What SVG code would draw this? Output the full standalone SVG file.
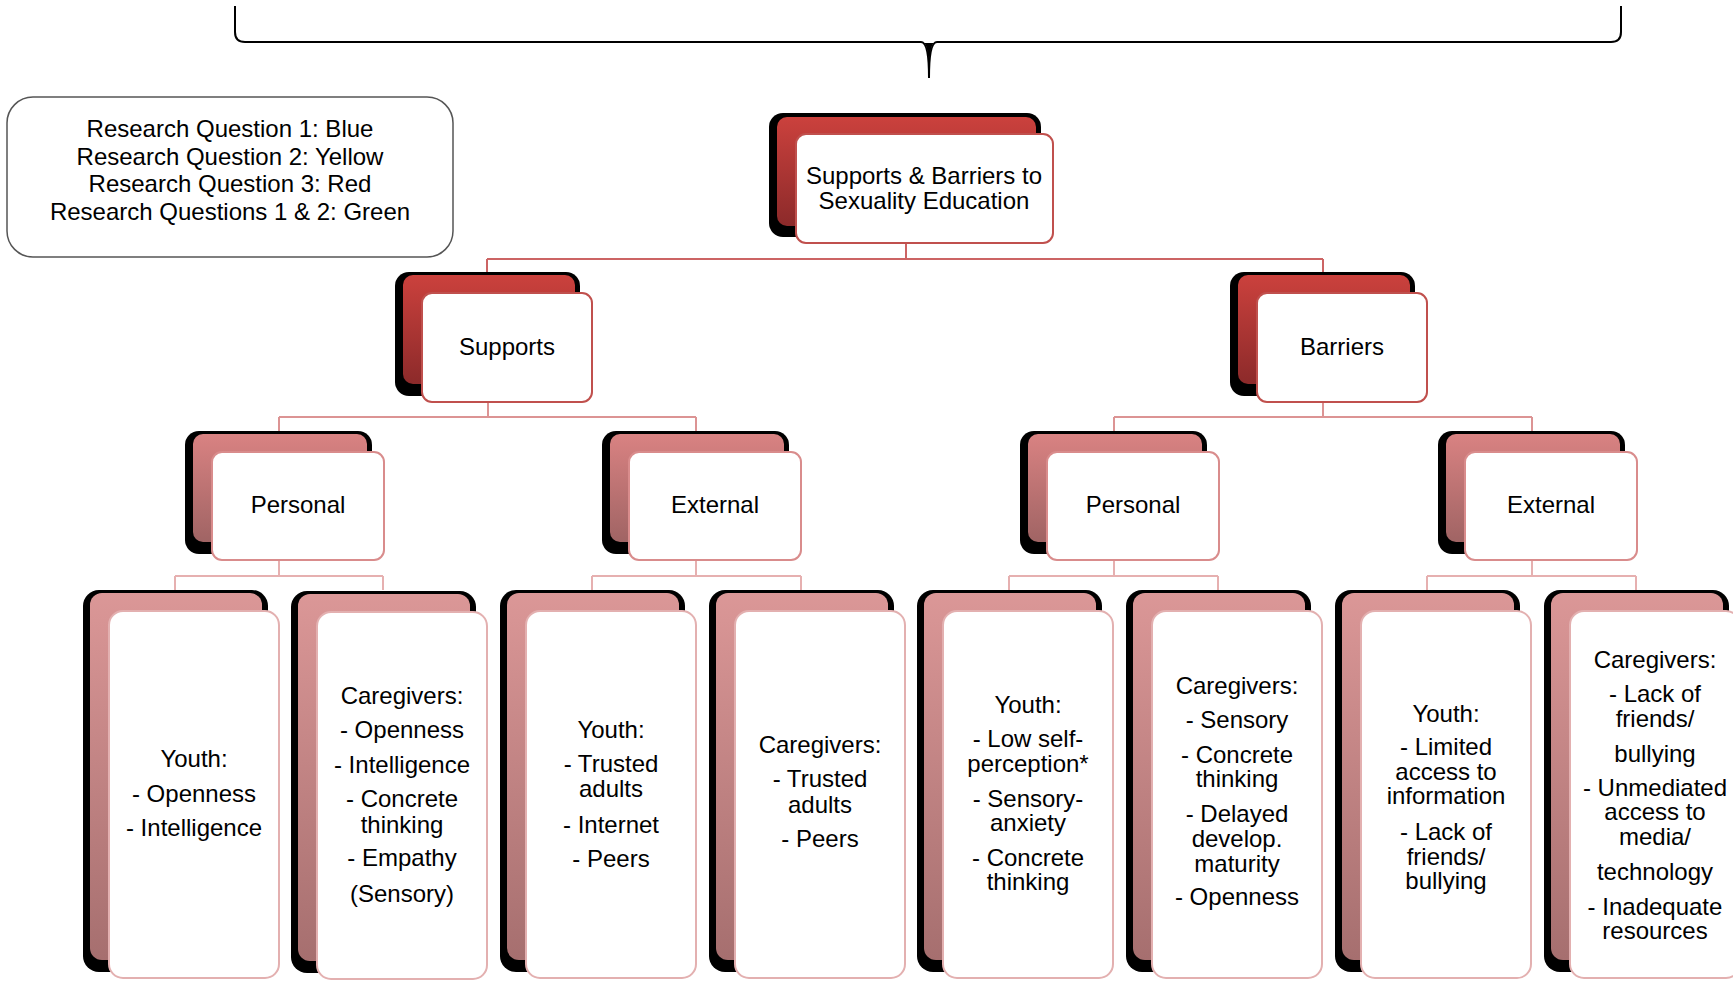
<svg xmlns="http://www.w3.org/2000/svg" width="1733" height="982" viewBox="0 0 1733 982">
<defs>
<linearGradient id="gTop" x1="0" y1="0" x2="0" y2="1">
<stop offset="0" stop-color="#cb413d"/>
<stop offset="1" stop-color="#8c2a2a"/>
</linearGradient>
<linearGradient id="gMid" x1="0" y1="0" x2="0" y2="1">
<stop offset="0" stop-color="#d98282"/>
<stop offset="1" stop-color="#a06464"/>
</linearGradient>
<linearGradient id="gLeaf" x1="0" y1="0" x2="0" y2="1">
<stop offset="0" stop-color="#db9797"/>
<stop offset="1" stop-color="#a66f6f"/>
</linearGradient>
<style>
text{font-family:"Liberation Sans",Arial,sans-serif;font-size:24px;fill:#000;text-anchor:middle}
.sh{fill:#000}
.frontTop{fill:#fff;stroke:#c0504d;stroke-width:2}
.frontMid{fill:#fff;stroke:#d98c8c;stroke-width:2}
.frontLeaf{fill:#fff;stroke:#e3b0b0;stroke-width:2}
.c1{fill:none;stroke:#cc6464;stroke-width:2}
.c2{fill:none;stroke:#dc9494;stroke-width:2}
.c3{fill:none;stroke:#e6b0b0;stroke-width:2}
</style>
</defs>
<rect width="1733" height="982" fill="#fff"/>

<g id="brace">
<path d="M235,6 L235,32 Q235,42 245,42 L921,42 Q929,42 929,78 Q929,42 937,42 L1611,42 Q1621,42 1621,32 L1621,6" fill="none" stroke="#000" stroke-width="2"/>
<path d="M924,43 Q929,46 929,78 Q929,46 934,43 Z" fill="#000"/>
</g>

<g id="legend">
<rect x="7" y="97" width="446" height="160" rx="26" fill="#fff" stroke="#555" stroke-width="1.5"/>
<text x="230" y="137">Research Question 1: Blue</text>
<text x="230" y="165">Research Question 2: Yellow</text>
<text x="230" y="192">Research Question 3: Red</text>
<text x="230" y="220">Research Questions 1 &amp; 2: Green</text>
</g>

<g id="connectors">
<path class="c1" d="M906,243 V259 M487,259 H1323 M487,259 V272 M1323,259 V272"/>
<path class="c2" d="M488,402 V417 M279,417 H696 M279,417 V431 M696,417 V431"/>
<path class="c2" d="M1323,402 V417 M1114,417 H1532 M1114,417 V431 M1532,417 V431"/>
<path class="c3" d="M279,560 V576 M175,576 H383 M175,576 V590 M383,576 V590"/>
<path class="c3" d="M696,560 V576 M592,576 H801 M592,576 V590 M801,576 V590"/>
<path class="c3" d="M1114,560 V576 M1009,576 H1218 M1009,576 V590 M1218,576 V590"/>
<path class="c3" d="M1532,560 V576 M1427,576 H1636 M1427,576 V590 M1636,576 V590"/>
</g>

<g id="node-root">
<rect class="sh" x="769" y="113" width="272" height="124" rx="14"/>
<rect x="777" y="117" width="259" height="109" rx="10" fill="url(#gTop)"/>
<rect class="frontTop" x="796" y="134" width="257" height="109" rx="10"/>
<text x="924" y="184">Supports &amp; Barriers to</text>
<text x="924" y="209">Sexuality Education</text>
</g>

<g id="node-supports">
<rect class="sh" x="395" y="272" width="185" height="124" rx="14"/>
<rect x="403" y="275" width="172" height="109" rx="10" fill="url(#gTop)"/>
<rect class="frontTop" x="422" y="293" width="170" height="109" rx="10"/>
<text x="507" y="355">Supports</text>
</g>

<g id="node-barriers">
<rect class="sh" x="1230" y="272" width="185" height="124" rx="14"/>
<rect x="1238" y="275" width="172" height="109" rx="10" fill="url(#gTop)"/>
<rect class="frontTop" x="1257" y="293" width="170" height="109" rx="10"/>
<text x="1342" y="355">Barriers</text>
</g>

<g id="node-s-personal">
<rect class="sh" x="185" y="431" width="187" height="123" rx="14"/>
<rect x="193" y="434" width="174" height="108" rx="10" fill="url(#gMid)"/>
<rect class="frontMid" x="212" y="452" width="172" height="108" rx="10"/>
<text x="298" y="513">Personal</text>
</g>

<g id="node-s-external">
<rect class="sh" x="602" y="431" width="187" height="123" rx="14"/>
<rect x="610" y="434" width="174" height="108" rx="10" fill="url(#gMid)"/>
<rect class="frontMid" x="629" y="452" width="172" height="108" rx="10"/>
<text x="715" y="513">External</text>
</g>

<g id="node-b-personal">
<rect class="sh" x="1020" y="431" width="187" height="123" rx="14"/>
<rect x="1028" y="434" width="174" height="108" rx="10" fill="url(#gMid)"/>
<rect class="frontMid" x="1047" y="452" width="172" height="108" rx="10"/>
<text x="1133" y="513">Personal</text>
</g>

<g id="node-b-external">
<rect class="sh" x="1438" y="431" width="187" height="123" rx="14"/>
<rect x="1446" y="434" width="174" height="108" rx="10" fill="url(#gMid)"/>
<rect class="frontMid" x="1465" y="452" width="172" height="108" rx="10"/>
<text x="1551" y="513">External</text>
</g>

<g id="leaf-1">
<rect class="sh" x="83" y="590" width="185" height="382" rx="16"/>
<rect x="90" y="593" width="172" height="367" rx="12" fill="url(#gLeaf)"/>
<rect class="frontLeaf" x="109" y="611" width="170" height="367" rx="14"/>
<text x="194" y="767">Youth:</text>
<text x="194" y="802">- Openness</text>
<text x="194" y="836">- Intelligence</text>
</g>

<g id="leaf-2">
<rect class="sh" x="291" y="591" width="185" height="382" rx="16"/>
<rect x="298" y="594" width="172" height="367" rx="12" fill="url(#gLeaf)"/>
<rect class="frontLeaf" x="317" y="612" width="170" height="367" rx="14"/>
<text x="402" y="704">Caregivers:</text>
<text x="402" y="738">- Openness</text>
<text x="402" y="773">- Intelligence</text>
<text x="402" y="807">- Concrete</text>
<text x="402" y="833">thinking</text>
<text x="402" y="866">- Empathy</text>
<text x="402" y="902">(Sensory)</text>
</g>

<g id="leaf-3">
<rect class="sh" x="500" y="590" width="185" height="382" rx="16"/>
<rect x="507" y="593" width="172" height="367" rx="12" fill="url(#gLeaf)"/>
<rect class="frontLeaf" x="526" y="611" width="170" height="367" rx="14"/>
<text x="611" y="738">Youth:</text>
<text x="611" y="772">- Trusted</text>
<text x="611" y="797">adults</text>
<text x="611" y="833">- Internet</text>
<text x="611" y="867">- Peers</text>
</g>

<g id="leaf-4">
<rect class="sh" x="709" y="590" width="185" height="382" rx="16"/>
<rect x="716" y="593" width="172" height="367" rx="12" fill="url(#gLeaf)"/>
<rect class="frontLeaf" x="735" y="611" width="170" height="367" rx="14"/>
<text x="820" y="753">Caregivers:</text>
<text x="820" y="787">- Trusted</text>
<text x="820" y="813">adults</text>
<text x="820" y="847">- Peers</text>
</g>

<g id="leaf-5">
<rect class="sh" x="917" y="590" width="185" height="382" rx="16"/>
<rect x="924" y="593" width="172" height="367" rx="12" fill="url(#gLeaf)"/>
<rect class="frontLeaf" x="943" y="611" width="170" height="367" rx="14"/>
<text x="1028" y="713">Youth:</text>
<text x="1028" y="747">- Low self-</text>
<text x="1028" y="772">perception*</text>
<text x="1028" y="807">- Sensory-</text>
<text x="1028" y="831">anxiety</text>
<text x="1028" y="866">- Concrete</text>
<text x="1028" y="890">thinking</text>
</g>

<g id="leaf-6">
<rect class="sh" x="1126" y="590" width="185" height="382" rx="16"/>
<rect x="1133" y="593" width="172" height="367" rx="12" fill="url(#gLeaf)"/>
<rect class="frontLeaf" x="1152" y="611" width="170" height="367" rx="14"/>
<text x="1237" y="694">Caregivers:</text>
<text x="1237" y="728">- Sensory</text>
<text x="1237" y="763">- Concrete</text>
<text x="1237" y="787">thinking</text>
<text x="1237" y="822">- Delayed</text>
<text x="1237" y="847">develop.</text>
<text x="1237" y="872">maturity</text>
<text x="1237" y="905">- Openness</text>
</g>

<g id="leaf-7">
<rect class="sh" x="1335" y="590" width="185" height="382" rx="16"/>
<rect x="1342" y="593" width="172" height="367" rx="12" fill="url(#gLeaf)"/>
<rect class="frontLeaf" x="1361" y="611" width="170" height="367" rx="14"/>
<text x="1446" y="722">Youth:</text>
<text x="1446" y="755">- Limited</text>
<text x="1446" y="780">access to</text>
<text x="1446" y="804">information</text>
<text x="1446" y="840">- Lack of</text>
<text x="1446" y="865">friends/</text>
<text x="1446" y="889">bullying</text>
</g>

<g id="leaf-8">
<rect class="sh" x="1544" y="590" width="185" height="382" rx="16"/>
<rect x="1551" y="593" width="172" height="367" rx="12" fill="url(#gLeaf)"/>
<rect class="frontLeaf" x="1570" y="611" width="170" height="367" rx="14"/>
<text x="1655" y="668">Caregivers:</text>
<text x="1655" y="702">- Lack of</text>
<text x="1655" y="727">friends/</text>
<text x="1655" y="762">bullying</text>
<text x="1655" y="796">- Unmediated</text>
<text x="1655" y="820">access to</text>
<text x="1655" y="845">media/</text>
<text x="1655" y="880">technology</text>
<text x="1655" y="915">- Inadequate</text>
<text x="1655" y="939">resources</text>
</g>
</svg>
